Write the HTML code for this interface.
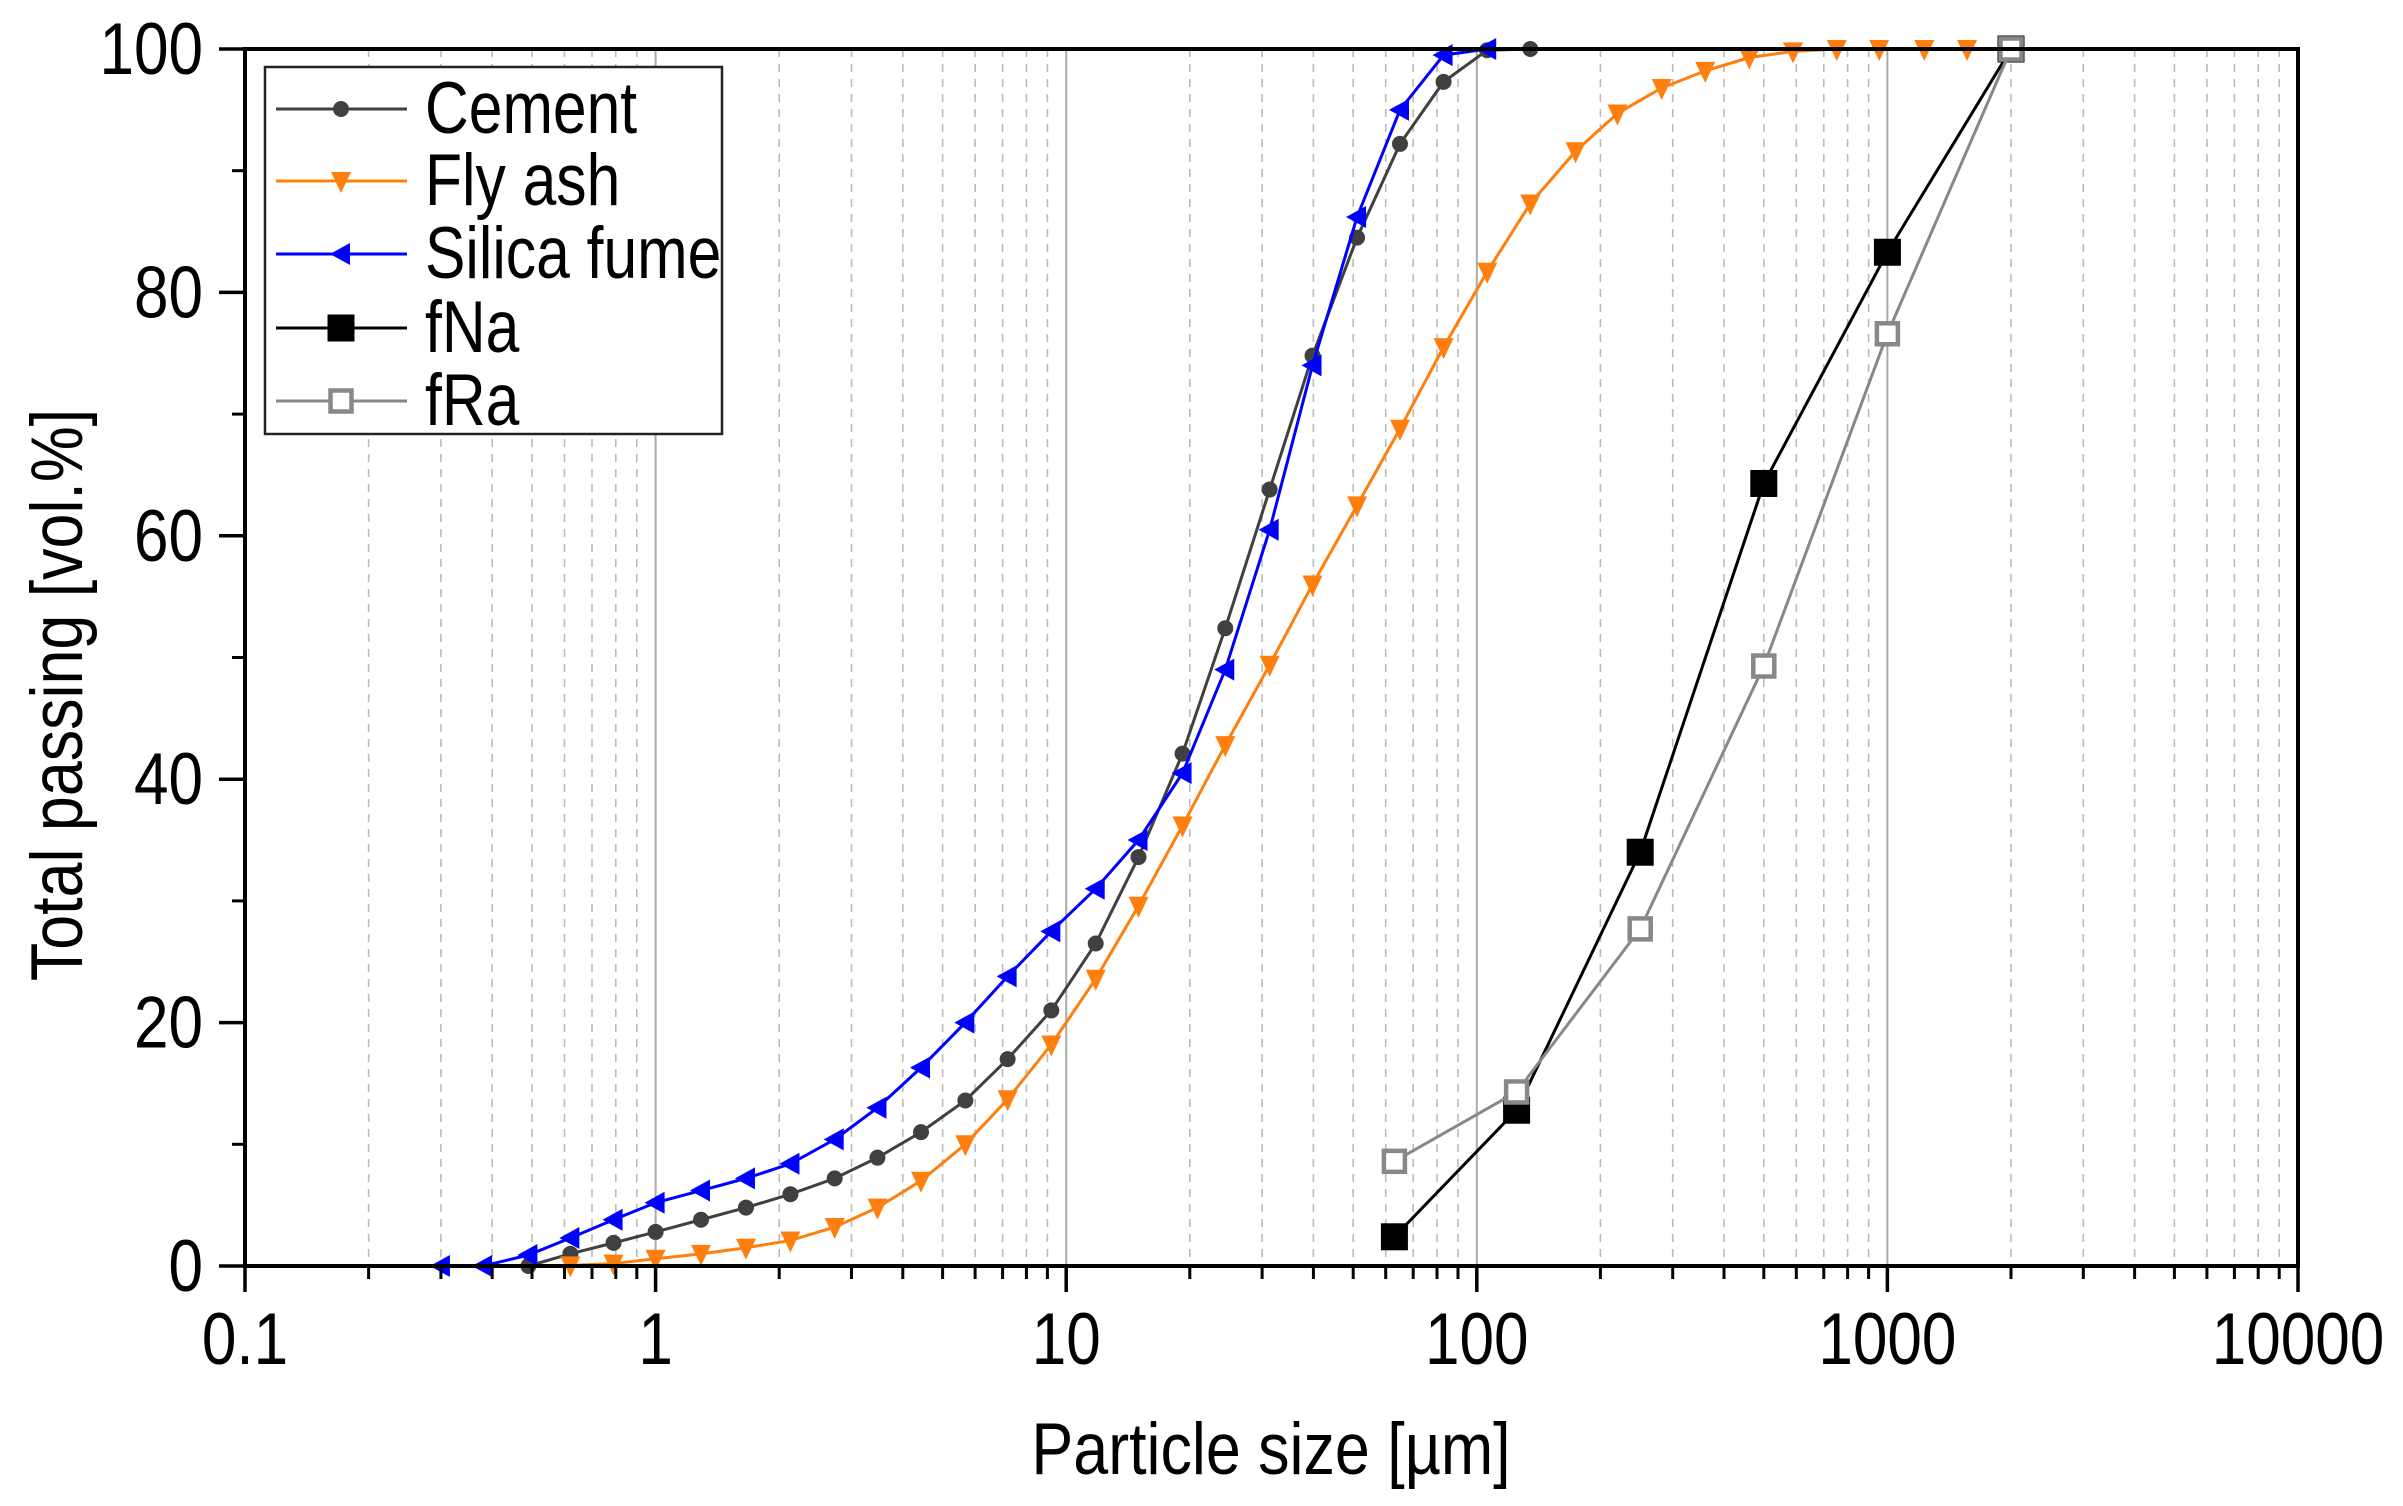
<!DOCTYPE html>
<html><head><meta charset="utf-8"><style>
html,body{margin:0;padding:0;background:#fff;}
svg{display:block;font-family:"Liberation Sans",Arial,sans-serif;}
</style></head><body>
<svg id="chart" width="2403" height="1506" viewBox="0 0 2403 1506" xmlns="http://www.w3.org/2000/svg">
<g id="grid"></g>
<g id="series"></g>
<g id="axes"></g>
<text transform="translate(1271,1474) scale(0.86,1)" font-size="73" text-anchor="middle">Particle size [µm]</text>
<text transform="translate(82,695) rotate(-90) scale(0.86,1)" font-size="73" text-anchor="middle">Total passing [vol.%]</text>
<g id="legend"></g>
</svg>
<script>
const cementX=[0.49,0.62,0.79,1.0,1.29,1.66,2.13,2.73,3.47,4.43,5.68,7.2,9.2,11.8,15.0,19.2,24.4,31.3,39.8,51.1,65,83,106,135];
const cementY=[0,1,1.9,2.8,3.8,4.8,5.9,7.2,8.9,11,13.6,17,21,26.5,33.6,42.1,52.4,63.8,74.8,84.5,92.2,97.3,99.9,100];
const flyX=[0.62,0.79,1.0,1.29,1.66,2.13,2.73,3.47,4.43,5.68,7.2,9.2,11.8,15.0,19.2,24.4,31.3,39.8,51.1,65,83,106,135,174,220,282,360,461,589,753,955,1230,1563,2000];
const flyY=[0.05,0.2,0.6,1.0,1.5,2.1,3.2,4.8,7,10,13.7,18.2,23.6,29.6,36.2,42.8,49.4,56,62.5,68.8,75.5,81.7,87.3,91.6,94.7,96.8,98.2,99.3,99.8,100,100,100,100,100];
const silX=[0.30,0.38,0.49,0.62,0.79,1.0,1.29,1.66,2.13,2.73,3.47,4.43,5.68,7.2,9.2,11.8,15.0,19.2,24.4,31.3,39.8,51.1,65,83,106];
const silY=[0,0,0.9,2.3,3.8,5.2,6.2,7.2,8.4,10.4,13,16.3,20,23.8,27.5,31,35,40.5,49,60.5,74,86.2,95,99.5,100];
const fNaX=[63,125,250,500,1000,2000];
const fNaY=[2.4,12.8,34,64.3,83.3,100];
const fRaX=[63,125,250,500,1000,2000];
const fRaY=[8.6,14.3,27.7,49.3,76.6,100];
const xTickVals=[0.1,1,10,100,1000,10000];
const xTickLabels=["0.1","1","10","100","1000","10000"];
const yTickVals=[0,20,40,60,80,100];
const yTickLabels=["0","20","40","60","80","100"];

const L=245,R=2298,T=49,B=1266;
const NS="http://www.w3.org/2000/svg";
function xs(v){return L+(Math.log10(v)+1)/5*(R-L);}
function ys(v){return B-v/100*(B-T);}
function mk(tag,attrs,parent){const e=document.createElementNS(NS,tag);for(const k in attrs)e.setAttribute(k,attrs[k]);parent.appendChild(e);return e;}
const grid=document.getElementById('grid'),axes=document.getElementById('axes'),ser=document.getElementById('series'),leg=document.getElementById('legend');
for(let d=-1;d<4;d++){for(let m=1;m<10;m++){const v=m*Math.pow(10,d);const x=xs(v);
 if(m===1){if(d>-1){const g=mk('line',{x1:x,x2:x,y1:T,y2:B,stroke:'#aaa','stroke-width':2},grid);
 }}
 else{const g=mk('line',{x1:x,x2:x,y1:T,y2:B,stroke:'#bbb','stroke-width':1.6,'stroke-dasharray':'8,7'},grid);
 
 const t=mk('line',{x1:x,x2:x,y1:B,y2:B+13,stroke:'#000','stroke-width':3},axes);
 }
}}
const fr=mk('rect',{x:L,y:T,width:R-L,height:B-T,fill:'none',stroke:'#000','stroke-width':4},axes);

xTickVals.forEach((v,i)=>{const x=xs(v);
 const t=mk('line',{x1:x,x2:x,y1:B,y2:B+26,stroke:'#000','stroke-width':3.5},axes);
 
 const tx=mk('text',{transform:`translate(${x},1364) scale(0.85,1)`,'font-size':73,'text-anchor':'middle'},axes);tx.textContent=xTickLabels[i];
 });
yTickVals.forEach((v,i)=>{const y=ys(v);
 const t=mk('line',{x1:L-26,x2:L,y1:y,y2:y,stroke:'#000','stroke-width':3.5},axes);
 
 const tx=mk('text',{transform:`translate(203,${y+25}) scale(0.85,1)`,'font-size':73,'text-anchor':'end'},axes);tx.textContent=yTickLabels[i];
 
 if(v<100){const m=mk('line',{x1:L-13,x2:L,y1:ys(v+10),y2:ys(v+10),stroke:'#000','stroke-width':3},axes);
 }});
function marker(type,cx,cy,color,parent){
 let e;
 if(type==='circle')e=mk('circle',{cx,cy,r:8,fill:color},parent);
 else if(type==='down')e=mk('polygon',{points:`${cx-10},${cy-9} ${cx+10},${cy-9} ${cx},${cy+12}`,fill:color},parent);
 else if(type==='left')e=mk('polygon',{points:`${cx-11},${cy} ${cx+9},${cy-11} ${cx+9},${cy+11}`,fill:color},parent);
 else if(type==='square')e=mk('rect',{x:cx-13.5,y:cy-13.5,width:27,height:27,fill:color},parent);
 else e=mk('rect',{x:cx-10.5,y:cy-10.5,width:21,height:21,fill:'#fff',stroke:color,'stroke-width':4.5},parent);
 return e;}
const S=[
 {n:'cement',label:'Cement',X:cementX,Y:cementY,c:'#404040',m:'circle',w:3},
 {n:'fly-ash',label:'Fly ash',X:flyX,Y:flyY,c:'#ff7f0e',m:'down',w:3},
 {n:'silica-fume',label:'Silica fume',X:silX,Y:silY,c:'#0000ff',m:'left',w:3},
 {n:'fna',label:'fNa',X:fNaX,Y:fNaY,c:'#000',m:'square',w:3},
 {n:'fra',label:'fRa',X:fRaX,Y:fRaY,c:'#888',m:'open',w:3}];
S.forEach(s=>{
 const g=mk('g',{},ser);
 const pts=s.X.map((x,i)=>xs(x)+','+ys(s.Y[i])).join(' ');
 const pl=mk('polyline',{points:pts,fill:'none',stroke:s.c,'stroke-width':s.w},g);
 
 s.X.forEach((x,i)=>{const m=marker(s.m,xs(x),ys(s.Y[i]),s.c,g);
  });
});
const lb=mk('rect',{x:265,y:67,width:457,height:367,fill:'#fff',stroke:'#222','stroke-width':2.5},leg);

const rows=[109,181,254,328,401];
S.forEach((s,i)=>{const y=rows[i];
 const g=mk('g',{},leg);
 mk('line',{x1:276,x2:407,y1:y,y2:y,stroke:s.c,'stroke-width':3},g);
 marker(s.m,341,y,s.c,g);
 const t=mk('text',{transform:`translate(425,${y+24}) scale(0.83,1)`,'font-size':73},g);t.textContent=s.label;
 });
</script>
</body></html>
